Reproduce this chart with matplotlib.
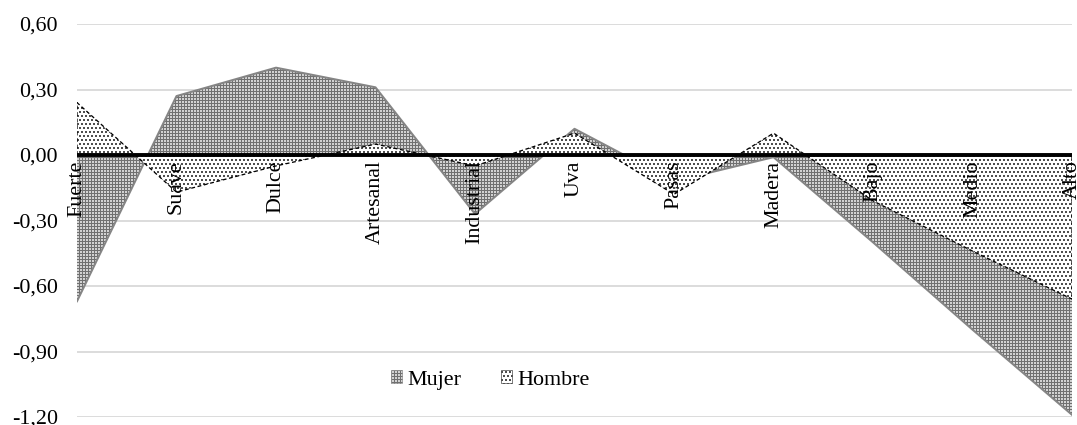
import matplotlib
matplotlib.use("Agg")
import matplotlib.pyplot as plt
from matplotlib.patches import Patch
import numpy as np

categories = ["Fuerte", "Suave", "Dulce", "Artesanal", "Industrial", "Uva",
              "Pasas", "Madera", "Bajo", "Medio", "Alto"]
mujer = [-0.67, 0.27, 0.40, 0.31, -0.27, 0.12, -0.12, -0.01, -0.40, -0.80, -1.19]
hombre = [0.24, -0.17, -0.05, 0.05, -0.05, 0.10, -0.18, 0.10, -0.21, -0.44, -0.66]
yticks = [0.60, 0.30, 0.00, -0.30, -0.60, -0.90, -1.20]

plt.rcParams['font.family'] = ['Liberation Serif', 'DejaVu Serif']
plt.rcParams['hatch.linewidth'] = 1.0

DPI = 72
fig = plt.figure(figsize=(1077/DPI, 425/DPI), dpi=DPI)
ax = fig.add_axes([77/1077, 1-417/425, (1072-77)/1077, (417-24)/425])

x = np.arange(len(categories))

for y in yticks:
    if y != 0:
        ax.axhline(y, color='#d9d9d9', lw=1.8, zorder=0)

mj_face, mj_hatch, mj_edge = '#d2d2d2', '#707070', '#858585'
ax.fill_between(x, mujer, 0, facecolor=mj_face, edgecolor=mj_hatch,
                hatch='++++', lw=0, zorder=2)
ax.plot(x, mujer, color=mj_edge, lw=2.0, zorder=2.5)
ax.fill_between(x, hombre, 0, facecolor='white', edgecolor='black',
                hatch='...', lw=1.3, linestyle=(0, (3, 2)), zorder=3)
ax.axhline(0, color='black', lw=3.9, zorder=4)

ax.set_xlim(0, len(categories) - 1)
ax.set_ylim(-1.20, 0.60)
ax.set_yticks(yticks)
ax.set_yticklabels([f"{v:.2f}".replace('.', ',') for v in yticks], fontsize=22)
ax.tick_params(axis='y', length=0, pad=19)
ax.set_xticks([])
for s in ax.spines.values():
    s.set_visible(False)

for i, c in enumerate(categories):
    ax.annotate(c, (i, 0), xytext=(0, -5.5), textcoords='offset points',
                rotation=90, ha='center', va='top', fontsize=22, zorder=5)

handles = [Patch(facecolor=mj_face, edgecolor=mj_hatch, hatch='++++', lw=0.5, label='Mujer'),
           Patch(facecolor='white', edgecolor='black', hatch='...', lw=0.5, label='Hombre')]
fig.legend(handles=handles, loc='center', bbox_to_anchor=(490/1077, 1-380/425),
           ncol=2, frameon=False, fontsize=22, handlelength=0.5, handleheight=0.5,
           handletextpad=0.25, columnspacing=1.8)

fig.savefig("out.png", dpi=DPI)
